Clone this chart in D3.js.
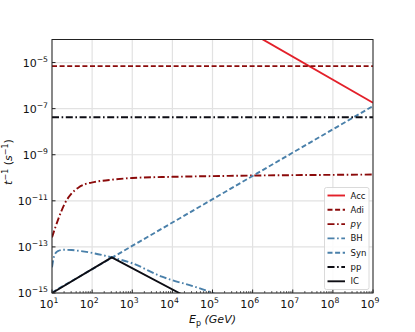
<!DOCTYPE html>
<html>
<head>
<meta charset="utf-8">
<script src="https://cdn.jsdelivr.net/npm/d3@7"></script>
<style>
  body { margin: 0; background: #fff; }
  svg text { font-family: "DejaVu Sans", sans-serif; }
</style>
</head>
<body>
<div id="chart"></div>
<script>
// energies (GeV) and cooling / acceleration rates (s^-1)
var accE = [1e6, 1e9];
var accT = [1.8e-4, 1.8e-7];

var adiE = [10, 1e9];
var adiT = [7e-6, 7e-6];

var pgE = [10, 14.5, 21, 31, 46, 66, 117, 316, 1e3, 1e4, 1e5, 1e6, 1e7, 1e8, 1e9];
var pgT = [2.6e-13, 1.7e-12, 7.9e-12, 2.1e-11, 3.8e-11, 5.2e-11, 6.6e-11, 8.3e-11, 9.8e-11, 1.1e-10, 1.18e-10, 1.25e-10, 1.3e-10, 1.34e-10, 1.38e-10];

var bhE = [10, 11.5, 14, 20, 31, 46, 117, 309, 1e3, 5.5e3, 1e4, 3.2e4, 1e5, 1.6e5];
var bhT = [1.3e-14, 4.4e-14, 6.6e-14, 7.5e-14, 7.3e-14, 6.8e-14, 5.2e-14, 3.5e-14, 1.95e-14, 5.1e-15, 3.6e-15, 2e-15, 1e-15, 7e-16];

var synE = [10, 1e9];
var synT = [1.05e-15, 1.3e-7];

var ppE = [10, 1e9];
var ppT = [4.2e-8, 4.2e-8];

var icE = [10, 309, 1.48e4, 2.5e4];
var icT = [1e-15, 3.5e-14, 1e-15, 6.2e-16];

var xTicks = [1e1, 1e2, 1e3, 1e4, 1e5, 1e6, 1e7, 1e8, 1e9];
var yTicks = [1e-15, 1e-13, 1e-11, 1e-9, 1e-7, 1e-5];

var series = [
  {name: "Acc", e: accE, t: accT, color: "#e3202a", dash: null},
  {name: "Adi", e: adiE, t: adiT, color: "#8b0a0a", dash: "5,2.6"},
  {name: "p\u03b3", e: pgE, t: pgT, color: "#8b0a0a", dash: "7,2.6,1.6,2.6", italic: true, smooth: true},
  {name: "BH", e: bhE, t: bhT, color: "#4a80aa", dash: "7,2.6,1.6,2.6", smooth: true},
  {name: "Syn", e: synE, t: synT, color: "#4a80aa", dash: "5,2.6"},
  {name: "pp", e: ppE, t: ppT, color: "#0d0d14", dash: "7,2.6,1.6,2.6"},
  {name: "IC", e: icE, t: icT, color: "#0d0d14", dash: null}
];

var W = 415, H = 332;
var mLeft = 52, mRight = 373, mTop = 39.5, mBottom = 293;

var svg = d3.select("#chart").append("svg")
  .attr("width", W)
  .attr("height", H);

var x = d3.scaleLog().domain([1e1, 1e9]).range([mLeft, mRight]);
var y = d3.scaleLog().domain([1e-15, 1e-4]).range([mBottom, mTop]);

svg.append("defs").append("clipPath").attr("id", "clip")
  .append("rect")
  .attr("x", mLeft).attr("y", mTop)
  .attr("width", mRight - mLeft).attr("height", mBottom - mTop);

// grid
var gridColor = "#e2e2e2";
xTicks.forEach(function(v){
  svg.append("line")
    .attr("x1", x(v)).attr("x2", x(v))
    .attr("y1", mTop).attr("y2", mBottom)
    .attr("stroke", gridColor).attr("stroke-width", 1.2);
});
yTicks.forEach(function(v){
  svg.append("line")
    .attr("x1", mLeft).attr("x2", mRight)
    .attr("y1", y(v)).attr("y2", y(v))
    .attr("stroke", gridColor).attr("stroke-width", 1.2);
});

// curves
var plot = svg.append("g").attr("clip-path", "url(#clip)");
series.forEach(function(s){
  var line = d3.line()
    .x(function(d){ return x(d[0]); })
    .y(function(d){ return y(d[1]); })
    .curve(s.smooth ? d3.curveMonotoneX : d3.curveLinear);
  var pts = s.e.map(function(e, i){ return [e, s.t[i]]; });
  plot.append("path")
    .attr("d", line(pts))
    .attr("fill", "none")
    .attr("stroke", s.color)
    .attr("stroke-width", 1.9)
    .attr("stroke-dasharray", s.dash);
});

// frame
svg.append("rect")
  .attr("x", mLeft).attr("y", mTop)
  .attr("width", mRight - mLeft).attr("height", mBottom - mTop)
  .attr("fill", "none").attr("stroke", "#222").attr("stroke-width", 1);

// x ticks (inward) + minor ticks
xTicks.forEach(function(v, i){
  svg.append("line")
    .attr("x1", x(v)).attr("x2", x(v))
    .attr("y1", mBottom).attr("y2", mBottom - 3.5)
    .attr("stroke", "#222").attr("stroke-width", 1);
  if (i < xTicks.length - 1) {
    for (var k = 2; k < 10; k++) {
      svg.append("line")
        .attr("x1", x(v * k)).attr("x2", x(v * k))
        .attr("y1", mBottom).attr("y2", mBottom - 2)
        .attr("stroke", "#222").attr("stroke-width", 0.7);
    }
  }
  var exp = Math.round(Math.log10(v));
  var t = svg.append("text")
    .attr("x", x(v) - 3)
    .attr("y", mBottom + 15)
    .attr("text-anchor", "middle")
    .attr("font-size", "11px")
    .attr("fill", "#111");
  t.append("tspan").text("10");
  t.append("tspan").attr("dy", -5).attr("font-size", "7.7px").text(exp);
});

// y ticks
yTicks.forEach(function(v){
  svg.append("line")
    .attr("x1", mLeft).attr("x2", mLeft + 3.5)
    .attr("y1", y(v)).attr("y2", y(v))
    .attr("stroke", "#222").attr("stroke-width", 1);
  var exp = Math.round(Math.log10(v));
  var t = svg.append("text")
    .attr("x", mLeft - 4)
    .attr("y", y(v) + 4)
    .attr("text-anchor", "end")
    .attr("font-size", "11px")
    .attr("fill", "#111");
  t.append("tspan").text("10");
  t.append("tspan").attr("dy", -5).attr("font-size", "7.7px").text("\u2212" + Math.abs(exp));
});

// axis labels
var xl = svg.append("text")
  .attr("x", (mLeft + mRight) / 2)
  .attr("y", 323)
  .attr("text-anchor", "middle")
  .attr("font-size", "11px")
  .attr("fill", "#111");
xl.append("tspan").attr("font-style", "italic").text("E");
xl.append("tspan").attr("dy", 2.5).attr("font-size", "8px").text("p");
xl.append("tspan").attr("dy", -2.5).attr("font-style", "italic").text(" (GeV)");

var yl = svg.append("text")
  .attr("transform", "translate(12,162) rotate(-90)")
  .attr("text-anchor", "middle")
  .attr("font-size", "11px")
  .attr("fill", "#111");
yl.append("tspan").attr("font-style", "italic").text("t");
yl.append("tspan").attr("dy", -4.5).attr("font-size", "8px").text("\u22121");
yl.append("tspan").attr("dy", 4.5).text(" (");
yl.append("tspan").attr("font-style", "italic").text("s");
yl.append("tspan").attr("dy", -4.5).attr("font-size", "8px").text("\u22121");
yl.append("tspan").attr("dy", 4.5).text(")");

// legend
var lg = svg.append("g");
lg.append("rect")
  .attr("x", 324.5).attr("y", 187.5)
  .attr("width", 44.5).attr("height", 102)
  .attr("rx", 2)
  .attr("fill", "#fff").attr("fill-opacity", 0.85)
  .attr("stroke", "#d0d0d0").attr("stroke-width", 0.8);
series.forEach(function(s, i){
  var ly = 195.5 + i * 14.3;
  lg.append("line")
    .attr("x1", 327.5).attr("x2", 345)
    .attr("y1", ly).attr("y2", ly)
    .attr("stroke", s.color)
    .attr("stroke-width", 1.9)
    .attr("stroke-dasharray", s.dash);
  lg.append("text")
    .attr("x", 350.5).attr("y", ly + 3)
    .attr("font-size", "8.5px")
    .attr("font-style", s.italic ? "italic" : null)
    .attr("fill", "#111")
    .text(s.name);
});
</script>
</body>
</html>
